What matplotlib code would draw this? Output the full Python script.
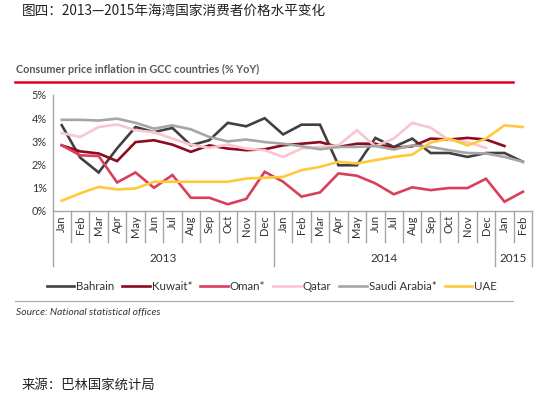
import matplotlib
matplotlib.use("Agg")
import matplotlib.pyplot as plt
import matplotlib.transforms as mtransforms

plt.rcParams['font.family'] = ['Lato', 'Noto Sans CJK SC', 'DejaVu Sans']

# Data (% YoY), Jan 2013 - Feb 2015
months = ['Jan', 'Feb', 'Mar', 'Apr', 'May', 'Jun', 'Jul', 'Aug', 'Sep', 'Oct', 'Nov', 'Dec',
          'Jan', 'Feb', 'Mar', 'Apr', 'May', 'Jun', 'Jul', 'Aug', 'Sep', 'Oct', 'Nov', 'Dec',
          'Jan', 'Feb']
years = ['2013', '2014', '2015']
year_spans = [(0, 11), (12, 23), (24, 25)]

bahrain = [3.7, 2.3, 1.66, 2.7, 3.62, 3.4, 3.58, 2.83, 3.05, 3.8, 3.65, 4.0,
           3.3, 3.72, 3.72, 1.97, 1.97, 3.15, 2.76, 3.12, 2.5, 2.5, 2.33, 2.5, 2.5, 2.12]
kuwait = [2.83, 2.57, 2.48, 2.15, 2.97, 3.05, 2.86, 2.55, 2.83, 2.69, 2.62, 2.66,
          2.83, 2.9, 2.97, 2.76, 2.9, 2.9, 2.72, 2.79, 3.12, 3.08, 3.15, 3.08, 2.8]
oman = [2.83, 2.4, 2.37, 1.23, 1.66, 1.0, 1.55, 0.57, 0.57, 0.29, 0.52, 1.69,
        1.26, 0.62, 0.8, 1.62, 1.52, 1.19, 0.72, 1.02, 0.9, 0.99, 0.99, 1.39, 0.4, 0.83]
qatar = [3.36, 3.19, 3.62, 3.73, 3.48, 3.4, 3.12, 2.86, 2.72, 2.86, 2.69, 2.62,
         2.33, 2.69, 2.76, 2.83, 3.48, 2.79, 3.12, 3.8, 3.59, 3.05, 2.97, 2.72]
saudi = [3.93, 3.93, 3.9, 3.98, 3.8, 3.55, 3.69, 3.52, 3.19, 3.0, 3.08, 2.97,
         2.9, 2.79, 2.66, 2.76, 2.76, 2.8, 2.65, 2.83, 2.76, 2.62, 2.5, 2.48, 2.33, 2.12]
uae = [0.44, 0.76, 1.04, 0.93, 0.97, 1.26, 1.26, 1.26, 1.26, 1.26, 1.4, 1.43,
       1.47, 1.76, 1.9, 2.12, 2.05, 2.19, 2.33, 2.43, 2.95, 3.12, 2.83, 3.12, 3.69, 3.62]

series = [('Bahrain', bahrain, '#404040'),
          ('Kuwait*', kuwait, '#8E0B1E'),
          ('Oman*', oman, '#D93F5A'),
          ('Qatar', qatar, '#F9C5CE'),
          ('Saudi Arabia*', saudi, '#A6A6A6'),
          ('UAE', uae, '#FFC93C')]

fig = plt.figure(figsize=(5.5, 3.94), dpi=100)
ax = fig.add_axes([0.0955, 0.4645, 0.872, 0.2944])

for name, vals, color in series:
    ax.plot(range(len(vals)), vals, color=color, lw=1.9, label=name,
            solid_joinstyle='miter')

ax.set_xlim(-0.5, len(months) - 0.5)
ax.set_ylim(0, 5)
ax.set_yticks(range(6))
ax.set_yticklabels([f'{v}%' for v in range(6)], fontsize=7.8, color='#333333')
ax.set_xticks(range(len(months)))
ax.set_xticklabels(months, rotation=90, fontsize=8, color='#333333')
ax.tick_params(axis='x', length=0, pad=3)
ax.tick_params(axis='y', length=0, pad=4)
for s in ['top', 'right']:
    ax.spines[s].set_visible(False)
for s in ['left', 'bottom']:
    ax.spines[s].set_color('#A6A6A6')
    ax.spines[s].set_linewidth(1.0)

# category separators
trans = mtransforms.blended_transform_factory(ax.transData, ax.transAxes)
year_edges = [-0.5] + [b + 0.5 for a, b in year_spans]
for i in range(len(months) + 1):
    xe = i - 0.5
    bottom = -0.47 if xe in year_edges else -0.27
    ax.plot([xe, xe], [0, bottom], color='#A6A6A6', lw=1.0, transform=trans, clip_on=False)
for yr, (a, b) in zip(years, year_spans):
    ax.text((a + b) / 2, -0.41, yr, transform=trans, ha='center', va='center',
            fontsize=8.5, color='#333333')

# legend
handles, labels = ax.get_legend_handles_labels()
fig.legend(handles, labels, loc='center', bbox_to_anchor=(0.494, 0.272), ncol=6,
           frameon=False, fontsize=8.3, handlelength=2.4, handletextpad=0.15,
           columnspacing=0.7, labelcolor='#333333')

# header / footer decorations
fig.text(0.04, 1 - 11 / 394, '图四：2013—2015年海湾国家消费者价格水平变化',
         family=['Noto Sans CJK SC', 'DejaVu Sans'], fontsize=9.8, color='#222222',
         ha='left', va='center')
fig.text(0.03, 1 - 69 / 394, 'Consumer price inflation in GCC countries (% YoY)',
         fontsize=7.8, fontweight='bold', color='#595959', ha='left', va='center')
fig.add_artist(plt.Line2D([15 / 550, 513 / 550], [1 - 82 / 394, 1 - 82 / 394],
                          color='#E2001A', lw=1.8, transform=fig.transFigure))
fig.add_artist(plt.Line2D([15 / 550, 513 / 550], [1 - 301 / 394, 1 - 301 / 394],
                          color='#A6A6A6', lw=0.8, transform=fig.transFigure))
fig.text(0.03, 1 - 312 / 394, 'Source: National statistical offices',
         fontsize=7.4, style='italic', color='#333333', ha='left', va='center')
fig.text(0.04, 1 - 385 / 394, '来源：巴林国家统计局',
         family=['Noto Sans CJK SC', 'DejaVu Sans'], fontsize=9.6, color='#222222',
         ha='left', va='center')

fig.savefig('out.png', dpi=100)
